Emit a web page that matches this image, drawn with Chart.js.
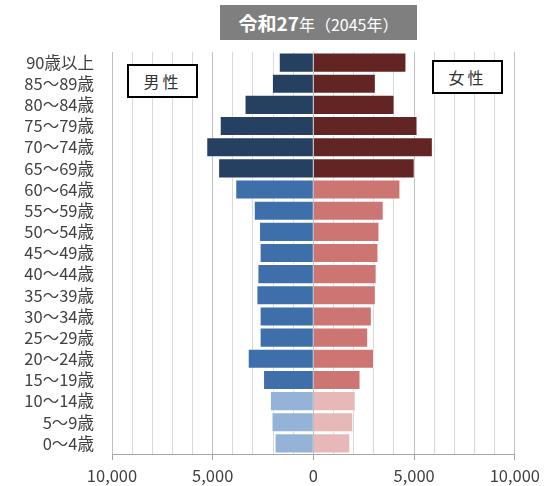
<!DOCTYPE html>
<html>
<head>
<meta charset="utf-8">
<script src="https://cdn.jsdelivr.net/npm/chart.js@4/dist/chart.umd.min.js"></script>
<style>
  body { margin: 0; background: #fff; }
  #wrap { position: relative; width: 546px; height: 486px; font-family: "Noto Sans CJK JP", sans-serif; }
  #title {
    position: absolute; left: 220px; top: 5px; width: 197px; height: 35px;
    background: #7f7f7f; color: #fff; text-align: center; line-height: 35px;
    font-size: 16px; white-space: nowrap;
  }
  #title b { font-size: 19px; }
  .sex {
    position: absolute; width: 67px; height: 30px; border: 2px solid #000;
    background: #fff; text-align: center; line-height: 30px; font-size: 16px; color: #333;
    letter-spacing: 3px;
  }
</style>
</head>
<body>
<div id="wrap">
  <canvas id="pyramid" width="546" height="486"></canvas>
  <div id="title"><b>令和27</b>年（2045年）</div>
  <div class="sex" style="left:127px; top:64px;">男性</div>
  <div class="sex" style="left:432px; top:60px;">女性</div>
</div>
<script>
// age groups, top to bottom
var ages = ["90歳以上", "85〜89歳", "80〜84歳", "75〜79歳", "70〜74歳", "65〜69歳",
            "60〜64歳", "55〜59歳", "50〜54歳", "45〜49歳", "40〜44歳", "35〜39歳",
            "30〜34歳", "25〜29歳", "20〜24歳", "15〜19歳", "10〜14歳", "5〜9歳", "0〜4歳"];

var male = [1720, 2060, 3420, 4650, 5320, 4730,
            3880, 2960, 2700, 2670, 2780, 2830,
            2670, 2670, 3260, 2500, 2160, 2080, 1930];

var female = [4620, 3100, 4030, 5170, 5930, 5030,
              4320, 3490, 3280, 3230, 3140, 3100,
              2900, 2720, 3010, 2340, 2100, 1980, 1830];

var xTicks = [-10000, -5000, 0, 5000, 10000];

// colour by age band: 65+, 15-64, 0-14
function bandColours(old, mid, young) {
    return ages.map(function(a, i) {
        if (i <= 5) return old;
        if (i <= 15) return mid;
        return young;
    });
}

var ctx = document.getElementById("pyramid").getContext('2d');
var chart = new Chart(ctx, {
    type: 'bar',
    data: {
        labels: ages,
        datasets: [
            {
                label: '男性',
                data: male.map(function(v) { return -v; }),
                backgroundColor: bandColours('#254061', '#3f6faa', '#95b3d7'),
                borderColor: 'rgba(255,255,255,0.5)',
                borderWidth: 1,
                barPercentage: 0.95,
                categoryPercentage: 1
            },
            {
                label: '女性',
                data: female,
                backgroundColor: bandColours('#632523', '#cd7572', '#e6b9b8'),
                borderColor: 'rgba(255,255,255,0.5)',
                borderWidth: 1,
                barPercentage: 0.95,
                categoryPercentage: 1
            }
        ]
    },
    options: {
        indexAxis: 'y',
        responsive: false,
        animation: false,
        layout: { padding: { top: 52, right: 21, bottom: 0, left: 0 } },
        plugins: { legend: { display: false }, tooltip: { enabled: false } },
        scales: {
            x: {
                stacked: true,
                min: -10000,
                max: 10000,
                afterFit: function(scale) { scale.height = 32; },
                ticks: {
                    stepSize: 1000,
                    autoSkip: false,
                    maxRotation: 0,
                    padding: 6,
                    color: '#404040',
                    font: { family: '"Noto Sans CJK JP", sans-serif', size: 16.5 },
                    callback: function(value) {
                        if (xTicks.indexOf(value) < 0) return '';
                        return Math.abs(value).toLocaleString('en-US');
                    }
                },
                grid: {
                    color: function(c) {
                        return (c.tick && c.tick.value % 5000 === 0) ? '#bfbfbf' : '#d9d9d9';
                    },
                    tickColor: function(c) {
                        return (c.tick && c.tick.value % 5000 === 0) ? '#a6a6a6' : 'rgba(0,0,0,0)';
                    },
                    tickLength: 6
                },
                border: { color: '#a6a6a6' }
            },
            y: {
                stacked: true,
                grid: { display: false },
                border: { display: false },
                afterFit: function(scale) { scale.width = 112; },
                ticks: {
                    autoSkip: false,
                    padding: 10,
                    color: '#404040',
                    font: { family: '"Noto Sans CJK JP", sans-serif', size: 16.5 }
                }
            }
        }
    }
});
</script>
</body>
</html>
